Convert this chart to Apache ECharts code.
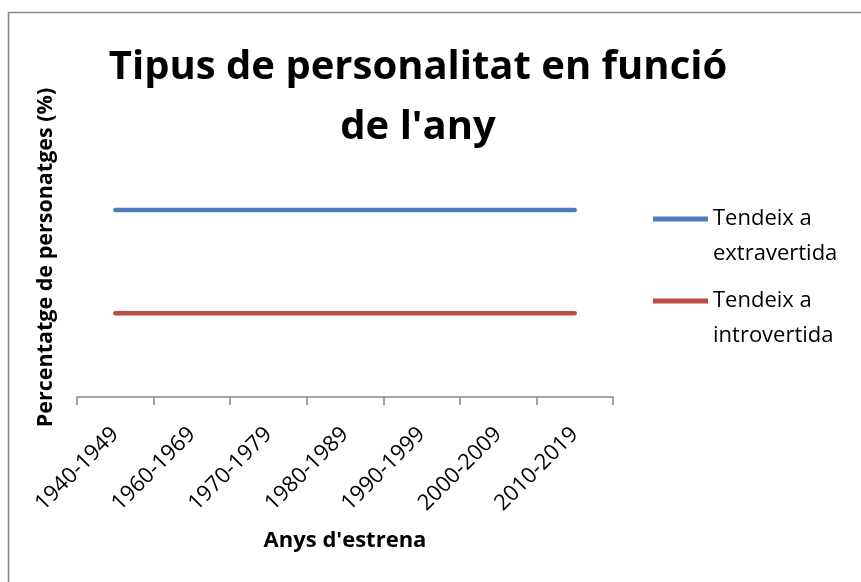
<!DOCTYPE html>
<html>
<head>
<meta charset="utf-8">
<script src="https://cdn.jsdelivr.net/npm/echarts@6/dist/echarts.min.js"></script>
<style>
  html, body { margin: 0; padding: 0; background: #fff; }
  #chart { width: 861px; height: 582px; }
</style>
</head>
<body>
<div id="chart"></div>
<script>
// categories and values (no y labels, so values are estimated)
var decades = ['1940-1949', '1960-1969', '1970-1979', '1980-1989', '1990-1999', '2000-2009', '2010-2019'];
var extravertida = [67, 67, 67, 67, 67, 67, 67];
var introvertida = [30, 30, 30, 30, 30, 30, 30];

var font = '"Open Sans", "Noto Sans", sans-serif';
// legend icon: thin bar at the top of a taller box, so it lines up with the first text line
var legendIcon = 'path://M0,0L55,0L55,5L0,5Z M0,39L0,39';

var chart = echarts.init(document.getElementById('chart'), null, { renderer: 'canvas' });
chart.setOption({
  animation: false,
  backgroundColor: '#fff',
  textStyle: { fontFamily: font },
  title: {
    text: 'Tipus de personalitat en funció\nde l\'any',
    left: 418,
    top: 38,
    padding: 0,
    textAlign: 'center',
    textStyle: {
      fontFamily: font,
      fontSize: 40,
      fontWeight: 'bold',
      color: '#000',
      lineHeight: 60
    }
  },
  graphic: [{
    type: 'rect',
    shape: { x: 8.5, y: 12.5, width: 900, height: 600 },
    style: { fill: 'none', stroke: '#878787', lineWidth: 1.5 },
    silent: true
  }],
  legend: {
    orient: 'vertical',
    left: 653,
    top: 201,
    padding: 0,
    itemWidth: 55,
    itemHeight: 39,
    itemGap: 12,
    icon: legendIcon,
    data: ['Tendeix a\nextravertida', 'Tendeix a\nintrovertida'],
    textStyle: {
      fontFamily: font,
      fontSize: 22,
      color: '#000',
      lineHeight: 35
    }
  },
  grid: {
    left: 77,
    right: 248,
    top: 118,
    bottom: 185,
    containLabel: false,
    outerBoundsMode: 'none'
  },
  xAxis: {
    type: 'category',
    data: decades,
    boundaryGap: true,
    name: 'Anys d\'estrena',
    nameLocation: 'middle',
    nameGap: 133,
    nameTextStyle: { fontFamily: font, fontSize: 22, fontWeight: 'bold', color: '#000' },
    axisLine: { lineStyle: { color: '#868686', width: 1.5 } },
    axisTick: { show: true, length: 8, lineStyle: { color: '#868686', width: 1.5 } },
    axisLabel: {
      rotate: 45,
      margin: 34,
      fontSize: 22,
      color: '#000',
      fontFamily: font,
      interval: 0
    }
  },
  yAxis: {
    type: 'value',
    min: 0,
    max: 100,
    name: 'Percentatge de personatges (%)',
    nameLocation: 'middle',
    nameGap: 20,
    nameTextStyle: { fontFamily: font, fontSize: 21.5, fontWeight: 'bold', color: '#000' },
    axisLine: { show: false },
    axisTick: { show: false },
    axisLabel: { show: false },
    splitLine: { show: false }
  },
  series: [{
    name: 'Tendeix a\nextravertida',
    type: 'line',
    data: extravertida,
    symbol: 'none',
    color: '#4a7ebb',
    lineStyle: { color: '#4a7ebb', width: 4.5, cap: 'round' }
  }, {
    name: 'Tendeix a\nintrovertida',
    type: 'line',
    data: introvertida,
    symbol: 'none',
    color: '#be4b48',
    lineStyle: { color: '#be4b48', width: 4.5, cap: 'round' }
  }]
});
</script>
</body>
</html>
